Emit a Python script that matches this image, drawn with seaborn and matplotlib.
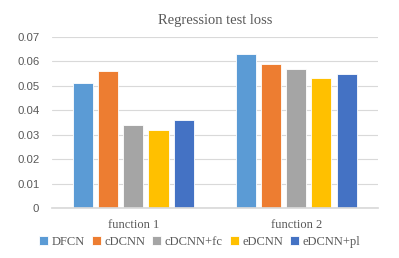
import pandas as pd
import matplotlib.pyplot as plt
import seaborn as sns

# Data
functions = ["function 1", "function 2"]
models = ["DFCN", "cDCNN", "cDCNN+fc", "eDCNN", "eDCNN+pl"]
loss_f1 = [0.051, 0.056, 0.034, 0.032, 0.036]
loss_f2 = [0.063, 0.059, 0.057, 0.053, 0.055]
colors = ["#5B9BD5", "#ED7D31", "#A5A5A5", "#FFC000", "#4472C4"]

rows = []
for m, a, b in zip(models, loss_f1, loss_f2):
    rows.append({"function": functions[0], "model": m, "loss": a})
    rows.append({"function": functions[1], "model": m, "loss": b})
df = pd.DataFrame(rows)

sns.set_theme(style="white")
plt.rcParams["font.family"] = ["Liberation Serif", "DejaVu Serif"]

fig = plt.figure(figsize=(3.99, 2.58), dpi=100)
ax = fig.add_axes([0.130, 0.194, 0.817, 0.663])

sns.barplot(data=df, x="function", y="loss", hue="model", hue_order=models,
            order=functions, palette=colors, width=0.77, gap=0.2,
            edgecolor="white", linewidth=0.6, saturation=1, ax=ax)

ax.set_ylim(0, 0.07)
ax.set_yticks([0, 0.01, 0.02, 0.03, 0.04, 0.05, 0.06, 0.07])
ax.set_yticklabels(["0", "0.01", "0.02", "0.03", "0.04", "0.05", "0.06", "0.07"],
                   family="Liberation Sans", fontsize=8.2, color="#595959")
ax.set_xlim(-0.5, 1.5)
ax.yaxis.grid(True, color="#D9D9D9", linewidth=0.8)
ax.set_axisbelow(True)
for s in ["top", "right", "left"]:
    ax.spines[s].set_visible(False)
ax.spines["bottom"].set_color("#D9D9D9")
ax.tick_params(axis="both", length=0)
ax.tick_params(axis="x", labelsize=9, labelcolor="#595959", pad=8)
ax.tick_params(axis="y", pad=9)
ax.set_xlabel("")
ax.set_ylabel("")
ax.set_title("Regression test loss", fontsize=10.5, color="#595959", pad=9)

ax.legend(loc="center", bbox_to_anchor=(0.454, -0.2), ncol=5, frameon=False,
          fontsize=9, handlelength=0.7, handleheight=0.7, handletextpad=0.3,
          columnspacing=0.55, labelcolor="#595959")

fig.savefig("out.png", dpi=100)
